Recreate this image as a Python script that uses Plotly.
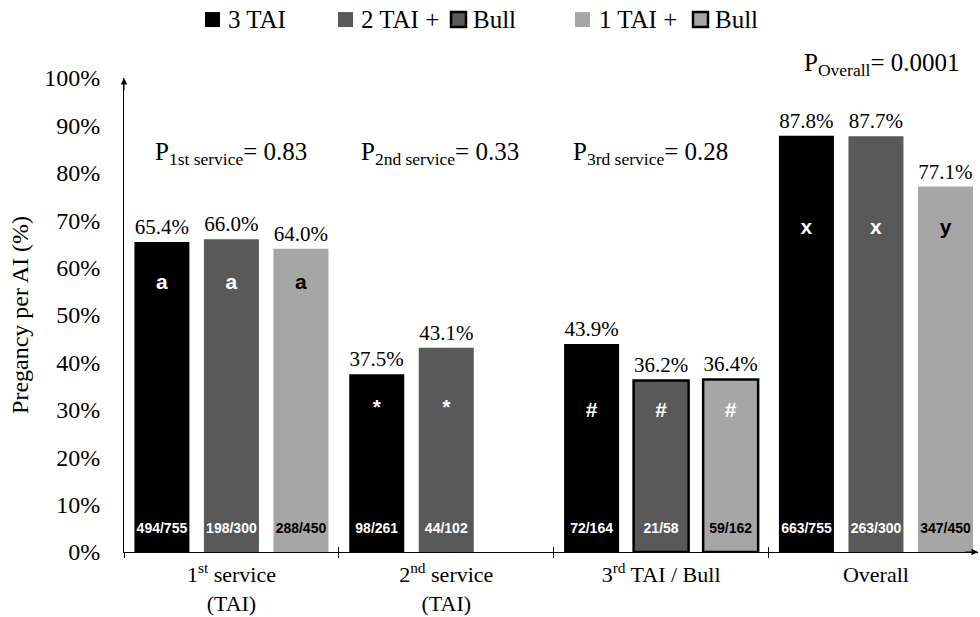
import plotly.graph_objects as go

# ---- data -------------------------------------------------------------
groups = ["1st service (TAI)", "2nd service (TAI)", "3rd TAI / Bull", "Overall"]
group_ticktext = [
    "1<sup>st</sup> service<br>(TAI)",
    "2<sup>nd</sup> service<br>(TAI)",
    "3<sup>rd</sup> TAI / Bull",
    "Overall",
]

series_names = ["3 TAI", "2 TAI + Bull", "1 TAI + Bull"]
pct_3tai = [65.4, 37.5, 43.9, 87.8]
pct_2tai = [66.0, 43.1, 36.2, 87.7]
pct_1tai = [64.0, None, 36.4, 77.1]

counts_3tai = ["494/755", "98/261", "72/164", "663/755"]
counts_2tai = ["198/300", "44/102", "21/58", "263/300"]
counts_1tai = ["288/450", None, "59/162", "347/450"]

sig_3tai = ["a", "*", "#", "x"]
sig_2tai = ["a", "*", "#", "x"]
sig_1tai = ["a", None, "#", "y"]

p_values = ["0.83", "0.33", "0.28", "0.0001"]
p_subscripts = ["1st service", "2nd service", "3rd service", "Overall"]

bull_group = 2  # third service done by bull for the two combined protocols

# ---- styling ----------------------------------------------------------
SERIF = "Liberation Serif"
SANS = "Liberation Sans"
colors = ["#000000", "#595959", "#a6a6a6"]
sig_colors = [
    ["white"] * 4,
    ["white"] * 4,
    ["black", "black", "white", "black"],
]
count_colors = ["white", "white", "black"]

SLOT = 0.3236       # spacing between bars inside a group (x units)
BAR_W = 0.256       # bar width (x units)
sig_y = [56.5, 30.3, 29.6, 68.2]    # height of the significance letters per group
count_y = 4.8                        # height of the n/N labels
p_y = [84.0, 84.0, 84.0, 102.8]      # P-value label heights (share of plot height, %)
p_dx = [0.0, -0.03, -0.05, 0.03]

W, H = 980, 617
ML, MR, MT, MB = 124, 2, 77.5, 65

all_pct = [pct_3tai, pct_2tai, pct_1tai]
all_counts = [counts_3tai, counts_2tai, counts_1tai]
all_sig = [sig_3tai, sig_2tai, sig_1tai]

fig = go.Figure()

for s, name in enumerate(series_names):
    xs = [g + (s - 1) * SLOT for g in range(len(groups))]
    outline = [2.5 if (g == bull_group and s > 0) else 0 for g in range(len(groups))]
    fig.add_trace(go.Bar(
        x=xs, y=all_pct[s], width=BAR_W, name=name, showlegend=False,
        marker=dict(color=colors[s], line=dict(color="black", width=outline)),
        texttemplate="%{y:.1f}%", textposition="outside",
        textfont=dict(family=SERIF, size=21, color="black"),
        cliponaxis=False,
    ))
    # significance letters inside the bars
    fig.add_trace(go.Scatter(
        x=xs, y=sig_y, mode="text",
        text=[t if t else "" for t in all_sig[s]], showlegend=False,
        textfont=dict(family=SANS, size=21, color=sig_colors[s], weight="bold"),
        hoverinfo="skip",
    ))
    # n / N at the base of each bar
    fig.add_trace(go.Scatter(
        x=xs, y=[count_y] * len(groups), mode="text",
        text=[c if c else "" for c in all_counts[s]],
        showlegend=False,
        textfont=dict(family=SANS, size=14, color=count_colors[s], weight="bold"),
        hoverinfo="skip",
    ))

# helper trace so the overlay axis (upward halves of the group ticks) is drawn
fig.add_trace(go.Scatter(x=[-0.5], y=[0], xaxis="x2", mode="markers",
                         marker=dict(opacity=0), showlegend=False, hoverinfo="skip"))

x_range = [-0.5, 3.475]
boundaries = [-0.5, 0.5, 1.5, 2.5]

fig.update_layout(
    width=W, height=H,
    margin=dict(l=ML, r=MR, t=MT, b=MB),
    paper_bgcolor="white", plot_bgcolor="white",
    font=dict(family=SERIF, color="black"),
    barmode="overlay",
    xaxis=dict(
        range=x_range, tickmode="array", tickvals=list(range(len(groups))),
        ticktext=group_ticktext, ticks="", showgrid=False, zeroline=False,
        showline=True, linecolor="black", linewidth=1, automargin=False,
        tickfont=dict(family=SERIF, size=22, color="black"),
        ticklabelstandoff=3,
        minor=dict(tickmode="array", tickvals=boundaries, ticks="outside",
                   ticklen=5, tickcolor="black", tickwidth=1, showgrid=False),
    ),
    xaxis2=dict(
        range=x_range, overlaying="x", anchor="y", side="bottom",
        tickmode="array", tickvals=boundaries, ticks="inside", ticklen=5,
        tickcolor="black", showticklabels=False, showline=False,
        showgrid=False, zeroline=False, automargin=False,
    ),
    yaxis=dict(
        range=[0, 100], dtick=10, ticksuffix="%", showgrid=False,
        zeroline=False, showline=True, linecolor="black", linewidth=1,
        ticks="", tickfont=dict(family=SERIF, size=24, color="black"),
        ticklabelstandoff=18, automargin=False,
        title=dict(text="Pregancy per AI (%)", font=dict(family=SERIF, size=24),
                   standoff=8),
    ),
)

# axis arrowheads
fig.add_annotation(x=x_range[0], y=100, xref="x", yref="y", ax=0, ay=14,
                   text="", showarrow=True, arrowhead=2, arrowsize=1.3,
                   arrowwidth=1, arrowcolor="black")
fig.add_annotation(x=x_range[1], y=0, xref="x", yref="y", ax=-14, ay=0,
                   text="", showarrow=True, arrowhead=2, arrowsize=1.3,
                   arrowwidth=1, arrowcolor="black")

# P-values per comparison
for g in range(len(groups)):
    fig.add_annotation(
        x=g + p_dx[g], y=p_y[g] / 100, xref="x", yref="paper", showarrow=False,
        xanchor="center", yanchor="middle",
        text=f"P<sub>{p_subscripts[g]}</sub>= {p_values[g]}",
        font=dict(family=SERIF, size=25, color="black"),
    )

# legend drawn along the top: filled squares, outlined squares for the bull
legend_items = [
    # (kind, content, left pixel)
    ("box", colors[0], 205), ("text", "3 TAI", 226),
    ("box", colors[1], 338), ("text", "2 TAI +", 359),
    ("boxline", colors[1], 451), ("text", "Bull", 471),
    ("box", colors[2], 575), ("text", "1 TAI +", 597),
    ("boxline", colors[2], 693), ("text", "Bull", 713),
]
LEG_Y = 19
SQ = 15
plot_w = W - ML - MR
plot_h = H - MT - MB


def px_x(p):
    return (p - ML) / plot_w


def px_y(p):
    return (H - MB - p) / plot_h


for kind, content, left in legend_items:
    if kind == "text":
        fig.add_annotation(x=px_x(left), y=px_y(LEG_Y), xref="paper", yref="paper",
                           xanchor="left", yanchor="middle", showarrow=False,
                           text=content, font=dict(family=SERIF, size=25, color="black"))
    else:
        lw = 2.5 if kind == "boxline" else 0
        fig.add_shape(type="rect", xref="paper", yref="paper",
                      x0=px_x(left), x1=px_x(left + SQ),
                      y0=px_y(LEG_Y + SQ / 2), y1=px_y(LEG_Y - SQ / 2),
                      fillcolor=content, line=dict(color="black", width=lw))

fig.write_html("out.html")
